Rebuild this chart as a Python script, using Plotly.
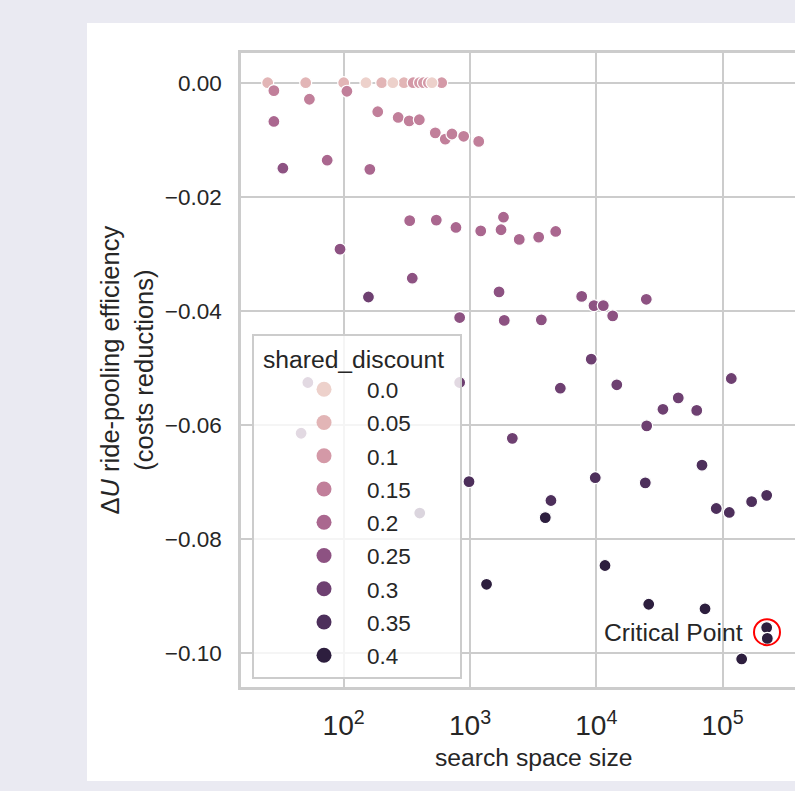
import numpy as np
import plotly.graph_objects as go

# ---------------- data ----------------
levels = [0.0, 0.05, 0.1, 0.15, 0.2, 0.25, 0.3, 0.35, 0.4]
level_labels = ["0.0", "0.05", "0.1", "0.15", "0.2", "0.25", "0.3", "0.35", "0.4"]

# search space size (x) and delta U (y) per shared_discount level
d000_x = [150, 245, 500]
d000_y = [0.0, 0.0, 0.0]
d005_x = [25, 50, 100, 200, 300]
d005_y = [0.0, 0.0, 0.0, 0.0, 0.0]
d010_x = [355, 398, 428, 468, 597]
d010_y = [0.0, 0.0, 0.0, 0.0, 0.0]
d015_x = [28, 53.5, 106, 186, 270, 330, 397, 531, 637, 720, 891, 1172]
d015_y = [-0.0014, -0.0029, -0.0015, -0.0051, -0.0061, -0.0067, -0.0065,
          -0.0088, -0.0099, -0.0090, -0.0094, -0.0103]
d020_x = [28, 74, 161, 333, 541, 774, 1216, 1761, 1841, 2455, 3497, 4772]
d020_y = [-0.0068, -0.0136, -0.0152, -0.0242, -0.0241, -0.0254, -0.0260,
          -0.0258, -0.0236, -0.0275, -0.0271, -0.0261]
d025_x = [33, 93.5, 349, 828, 1698, 1867, 3672, 7660, 9590, 11360, 13480, 24880]
d025_y = [-0.0150, -0.0292, -0.0343, -0.0412, -0.0367, -0.0417, -0.0416,
          -0.0375, -0.0391, -0.0391, -0.0409, -0.0380]
d030_x = [157, 52, 46, 828, 2163, 5190, 9120, 14530, 25060, 33700, 44560,
          62400, 117200]
d030_y = [-0.0376, -0.0526, -0.0615, -0.0526, -0.0624, -0.0536, -0.0485,
          -0.0530, -0.0602, -0.0573, -0.0553, -0.0575, -0.0519]
d035_x = [400, 982, 4375, 9810, 24430, 68700, 89100, 113000, 169800, 223400]
d035_y = [-0.0755, -0.0700, -0.0733, -0.0693, -0.0702, -0.0671, -0.0747,
          -0.0754, -0.0735, -0.0724]
d040_x = [1352, 3945, 11720, 26000, 72600, 141600, 223400, 226000]
d040_y = [-0.0880, -0.0763, -0.0847, -0.0915, -0.0923, -0.1011, -0.0956, -0.0975]

critical_x = [224700]
critical_y = [-0.0964]
critical_label = "Critical Point"

series_x = [d000_x, d005_x, d010_x, d015_x, d020_x, d025_x, d030_x, d035_x, d040_x]
series_y = [d000_y, d005_y, d010_y, d015_y, d020_y, d025_y, d030_y, d035_y, d040_y]

# ---------------- colours (seaborn default cubehelix hue map) ----------------
def cubehelix(v, vmin=min(levels), vmax=max(levels)):
    x = 0.85 - (v - vmin) / (vmax - vmin) * 0.70
    a = 0.8 * x * (1 - x) / 2
    phi = 2 * np.pi * (0.4 * x)
    r = x + a * (-0.14861 * np.cos(phi) + 1.78277 * np.sin(phi))
    g = x + a * (-0.29227 * np.cos(phi) - 0.90649 * np.sin(phi))
    b = x + a * (1.97294 * np.cos(phi))
    r, g, b = [int(round(255 * min(1, max(0, c)))) for c in (r, g, b)]
    return f"rgb({r},{g},{b})"

colors = [cubehelix(v) for v in levels]

TXT = "#262626"
GRID = "#cccccc"
FONT = "Liberation Sans, Arial, sans-serif"

fig = go.Figure()

# data points (single collection, drawn in data order)
draw_order = [1, 2, 0, 3, 4, 5, 6, 7, 8]
all_x, all_y, all_c = [], [], []
for i in draw_order:
    all_x += series_x[i]
    all_y += series_y[i]
    all_c += [colors[i]] * len(series_x[i])

fig.add_trace(go.Scatter(
    x=all_x, y=all_y, mode="markers", showlegend=False, hoverinfo="x+y",
    marker=dict(size=12, color=all_c, line=dict(color="white", width=1.2)),
))

# legend entries
for i, lab in enumerate(level_labels):
    fig.add_trace(go.Scatter(
        x=[None], y=[None], mode="markers", name=lab, legendgroup=f"g{i}",
        marker=dict(size=15, color=colors[i], line=dict(width=0)),
    ))

# critical point ring
fig.add_trace(go.Scatter(
    x=critical_x, y=critical_y, mode="markers", showlegend=False, hoverinfo="skip",
    marker=dict(symbol="circle-open", size=26, color="red", line=dict(width=2, color="red")),
))

fig.update_layout(
    width=795, height=791, autosize=False,
    margin=dict(l=241, r=0, t=53, b=104, pad=0),
    paper_bgcolor="#eaeaf2", plot_bgcolor="white",
    font=dict(family=FONT, color=TXT, size=22.5),
    showlegend=True,
    legend=dict(
        x=0.0199, y=0.5568, xanchor="left", yanchor="top",
        bgcolor="rgba(255,255,255,0.8)", bordercolor=GRID, borderwidth=2,
        title=dict(text="&nbsp;shared_discount&nbsp;&nbsp;", font=dict(size=24.7, color=TXT)),
        font=dict(size=22.5, color=TXT), itemwidth=76, indentation=27,
        tracegroupgap=1, itemsizing="trace",
    ),
    xaxis=dict(
        type="log", range=[1.1868, 5.5733], dtick=1, exponentformat="power",
        showgrid=True, gridcolor=GRID, gridwidth=2, zeroline=False,
        showline=True, mirror=True, linecolor=GRID, linewidth=2.5,
        ticks="", tickfont=dict(size=22.5, color=TXT), ticklabelstandoff=13,
    ),
    yaxis=dict(
        range=[-0.10602, 0.00521], dtick=0.02, tick0=0, tickformat=".2f",
        showgrid=True, gridcolor=GRID, gridwidth=2, zeroline=False,
        showline=True, linecolor=GRID, linewidth=2.5,
        ticks="", tickfont=dict(size=22.5, color=TXT), ticklabelstandoff=12,
    ),
    shapes=[dict(type="rect", xref="paper", yref="paper", layer="below",
                 x0=-0.2780, x1=1.05, y0=-0.1483, y1=1.0473,
                 fillcolor="white", line=dict(width=0))],
    annotations=[
        dict(text="search space size", xref="paper", yref="paper", x=0.5289, y=-0.1115,
             xanchor="center", yanchor="middle", showarrow=False,
             font=dict(size=24.7, color=TXT)),
        dict(text="Δ<i>U</i> ride-pooling efficiency<br>(costs reductions)",
             xref="paper", yref="paper", x=-0.2067, y=0.50, textangle=-90,
             xanchor="center", yanchor="middle", showarrow=False,
             font=dict(size=25.5, color=TXT)),
        dict(text=critical_label, xref="paper", yref="paper", x=0.9097, y=0.0856,
             xanchor="right", yanchor="middle", showarrow=False,
             font=dict(size=24.7, color=TXT)),
    ],
)

fig.write_html("out.html", config={"displayModeBar": False},
               post_script="document.body.style.margin='0';")
